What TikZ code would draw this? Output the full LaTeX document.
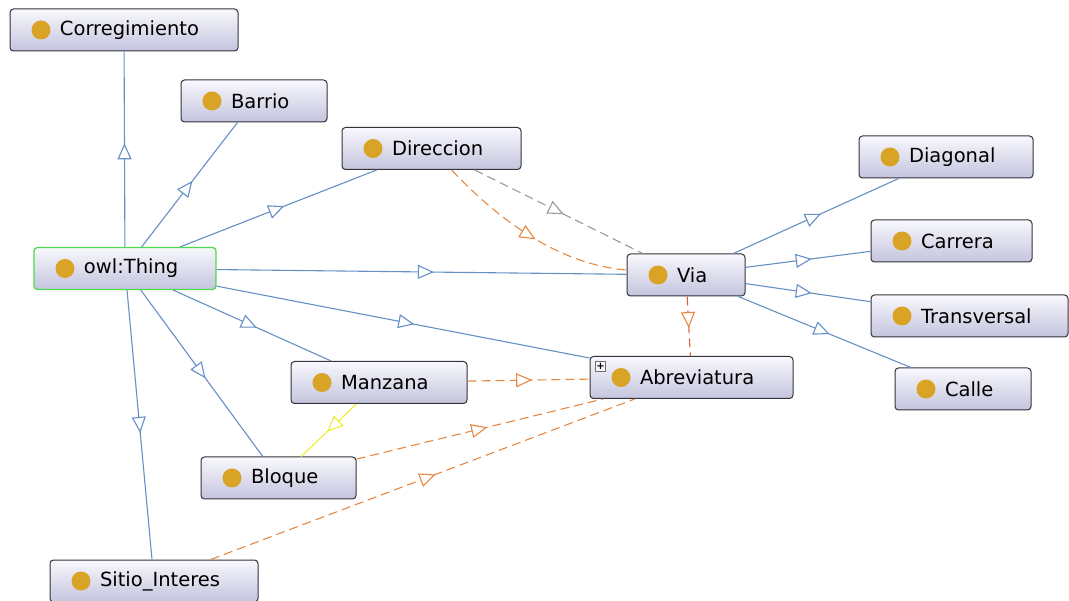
\documentclass[tikz,border=0pt]{standalone}
\usepackage{fontspec}
\setmainfont{DejaVu Sans}
\usetikzlibrary{arrows.meta,decorations.markings}

\definecolor{edgeblue}{HTML}{6690C4}
\definecolor{edgeorange}{HTML}{E8873F}
\definecolor{edgered}{HTML}{E0603A}
\definecolor{edgegray}{HTML}{9A9A9A}
\definecolor{edgeyellow}{HTML}{EEEE30}
\definecolor{boxtop}{HTML}{F8F8FD}
\definecolor{boxbottom}{HTML}{C4C4DE}
\definecolor{boxline}{HTML}{33333B}
\definecolor{dotfill}{HTML}{D9A326}
\definecolor{rootline}{HTML}{4CDC4C}

\tikzset{
  cls/.style={rectangle, rounded corners=3.5pt, draw=boxline, line width=1pt,
    top color=boxtop, bottom color=boxbottom, minimum height=42pt,
    text width=#1, inner xsep=0pt, inner ysep=0pt, align=left,
    font=\fontsize{19.5}{22}\selectfont,
    execute at begin node={\hspace*{50pt}\hyphenpenalty=10000\relax},
    path picture={\fill[dotfill] ([xshift=31pt]path picture bounding box.west) circle (9.5pt);}},
  rootcls/.style={cls=#1, draw=rootline, line width=1.3pt},
  plusbox/.style={rectangle, draw=boxline!70, fill=boxtop, line width=0.6pt,
    minimum size=10pt, inner sep=0pt, font=\fontsize{10}{10}\selectfont\bfseries},
  midtip/.style={postaction={decorate}, decoration={markings,
    mark=at position 0.53 with {\arrow[color=#1, line width=1.1pt]{Triangle[open, length=16pt, width=14pt, fill=white]}}}},
  isa/.style={draw=edgeblue, line width=1.1pt, midtip=edgeblue},
  dep/.style={draw=edgeorange, line width=1.1pt, dash pattern=on 9pt off 5pt, midtip=edgeorange},
  depred/.style={draw=edgered, line width=1.1pt, dash pattern=on 9pt off 5pt, midtip=edgeorange},
  depgray/.style={draw=edgegray, line width=1.1pt, dash pattern=on 9pt off 5pt, midtip=edgegray},
  link/.style={draw=edgeyellow, line width=1.1pt, midtip=edgeyellow},
}

\begin{document}
\begin{tikzpicture}[x=1pt, y=-1pt]
\useasboundingbox (0,0) rectangle (1069,601);

% class boxes
\node[cls=228pt] (corr) at (124,30) {Corregimiento};
\node[cls=146pt] (barrio) at (254,101) {Barrio};
\node[cls=179pt] (dir) at (431.5,148.5) {Direccion};
\node[cls=174pt] (diag) at (946,157) {Diagonal};
\node[cls=161pt] (carrera) at (951.5,241) {Carrera};
\node[rootcls=182pt] (thing) at (125,268.5) {owl:Thing};
\node[cls=118pt] (via) at (686,275) {Via};
\node[cls=197pt] (trans) at (969.5,316) {Transversal};
\node[cls=136pt] (calle) at (963,389) {Calle};
\node[cls=176pt] (manz) at (379,382.5) {Manzana};
\node[cls=203pt] (abr) at (691.5,377.5) {Abreviatura};
\node[cls=155pt] (bloque) at (278.5,478) {Bloque};
\node[cls=208pt] (sitio) at (154,581) {Sitio\_Interes};
\node[plusbox] (abrplus) at ([xshift=11pt,yshift=-10pt]abr.north west) {+};

% subclass links from owl:Thing
\draw[isa] (thing) -- (corr);
\draw[isa] (thing) -- (barrio);
\draw[isa] (thing) -- (dir);
\draw[isa] (thing) -- (via);
\draw[isa] (thing) -- (abr);
\draw[isa] (thing) -- (manz);
\draw[isa] (thing) -- (bloque);
\draw[isa] (thing) -- (sitio);

% subclasses of Via
\draw[isa] (via) -- (diag);
\draw[isa] (via) -- (carrera);
\draw[isa] (via) -- (trans);
\draw[isa] (via) -- (calle);

% object properties
\draw[depgray] (dir) -- (via);
\draw[dep] (dir) .. controls +(75,80) and +(-120,-10) .. (via);
\draw[depred] (via) -- (abr);
\draw[dep] (manz) -- (abr);
\draw[dep] (bloque) -- (abr);
\draw[dep] (sitio) -- (abr);
\draw[link] (manz) -- (bloque);
\end{tikzpicture}
\end{document}
